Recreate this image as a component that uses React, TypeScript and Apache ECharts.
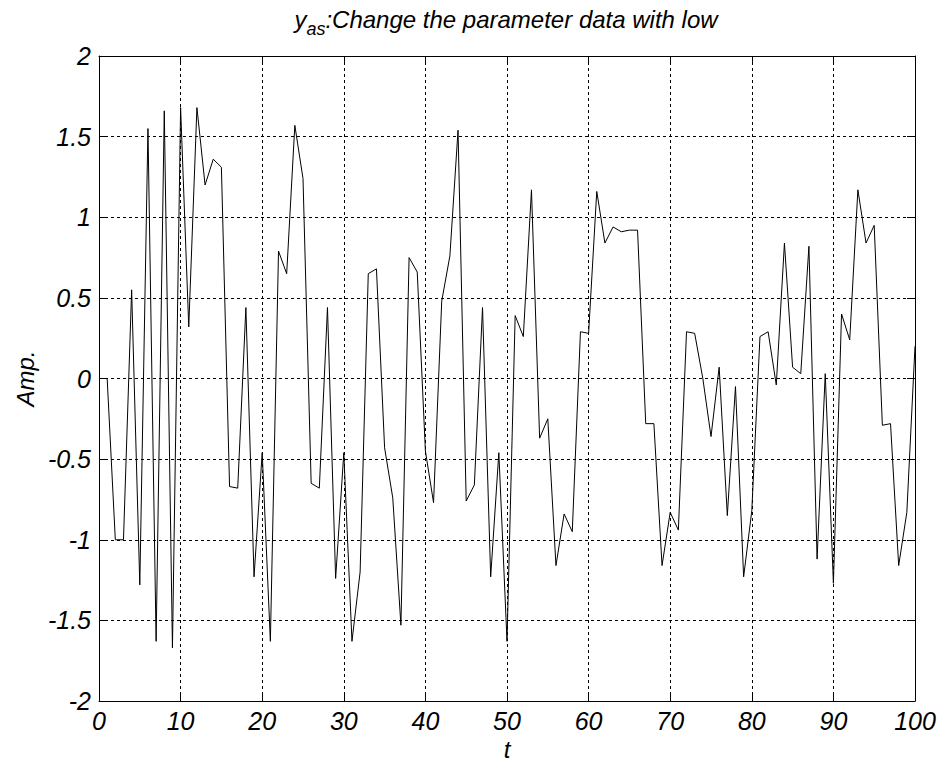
import React, { useEffect, useRef } from "react";
import * as echarts from "echarts";

const titleMain = ":Change the parameter data with low";
const titleVar = "y";
const titleSub = "as";
const xName = "t";
const yName = "Amp.";

const amp: number[] = [
  0, 0, -1, -1, 0.55, -1.28, 1.55, -1.63, 1.66, -1.67,
  1.68, 0.32, 1.68, 1.2, 1.36, 1.31, -0.67, -0.68, 0.44, -1.23,
  -0.46, -1.63, 0.79, 0.65, 1.57, 1.24, -0.65, -0.68, 0.44, -1.24,
  -0.46, -1.63, -1.2, 0.65, 0.68, -0.43, -0.74, -1.53, 0.75, 0.66,
  -0.45, -0.77, 0.48, 0.76, 1.54, -0.76, -0.66, 0.44, -1.23, -0.46,
  -1.63, 0.39, 0.26, 1.17, -0.37, -0.25, -1.16, -0.84, -0.95, 0.29,
  0.28, 1.16, 0.84, 0.94, 0.91, 0.92, 0.92, -0.28, -0.28, -1.16,
  -0.83, -0.94, 0.29, 0.28, 0.0, -0.36, 0.07, -0.85, -0.05, -1.23,
  -0.82, 0.26, 0.29, -0.04, 0.84, 0.07, 0.03, 0.82, -1.12, 0.03,
  -1.27, 0.4, 0.24, 1.17, 0.84, 0.95, -0.29, -0.28, -1.16, -0.83,
  0.2,
];

const FONT = "'Liberation Sans', Arial, sans-serif";

export default function App() {
  const ref = useRef<HTMLDivElement>(null);
  useEffect(() => {
    document.body.style.margin = "0";
    const chart = echarts.init(ref.current!, undefined, { renderer: "svg" });
    const data = amp.map((v, i) => [i, v]);
    const labelStyle = {
      color: "#000",
      fontFamily: FONT,
      fontStyle: "italic" as const,
      fontSize: 25,
    };
    const gridLine = { show: true, lineStyle: { color: "#000", type: [3, 3], width: 1 } };
    chart.setOption({
      animation: false,
      backgroundColor: "#fff",
      grid: { left: 99, right: 25, top: 56, bottom: 67, containLabel: false },
      graphic: [
        {
          type: "text",
          x: 506,
          y: 19,
          style: {
            text: `{v|${titleVar}}{s|${titleSub}}{m|${titleMain}}`,
            align: "center",
            verticalAlign: "middle",
            rich: {
              v: { fontSize: 24, fontFamily: FONT, fontStyle: "italic", fill: "#000", lineHeight: 24, verticalAlign: "top" },
              s: { fontSize: 18, fontFamily: FONT, fontStyle: "italic", fill: "#000", lineHeight: 18, padding: [13, 0, 0, 0], verticalAlign: "top" },
              m: { fontSize: 24, fontFamily: FONT, fontStyle: "italic", fill: "#000", lineHeight: 24, verticalAlign: "top" },
            },
          },
        },
      ],
      xAxis: [
        {
          type: "value",
          min: 0,
          max: 100,
          interval: 10,
          name: xName,
          nameLocation: "middle",
          nameGap: 33,
          nameTextStyle: { ...labelStyle, fontSize: 24 },
          axisLine: { show: true, onZero: false, lineStyle: { color: "#000", width: 1 } },
          axisTick: { show: true, inside: true, length: 8, lineStyle: { color: "#000" } },
          axisLabel: { ...labelStyle, margin: 7 },
          splitLine: gridLine,
        },
        {
          type: "value",
          position: "top",
          min: 0,
          max: 100,
          interval: 10,
          axisLine: { show: true, onZero: false, lineStyle: { color: "#000", width: 1 } },
          axisTick: { show: true, inside: true, length: 8, lineStyle: { color: "#000" } },
          axisLabel: { show: false },
          splitLine: { show: false },
        },
      ],
      yAxis: [
        {
          type: "value",
          min: -2,
          max: 2,
          interval: 0.5,
          name: yName,
          nameLocation: "middle",
          nameGap: 62,
          nameRotate: 90,
          nameTextStyle: { ...labelStyle, fontSize: 24 },
          axisLine: { show: true, onZero: false, lineStyle: { color: "#000", width: 1 } },
          axisTick: { show: true, inside: true, length: 8, lineStyle: { color: "#000" } },
          axisLabel: { ...labelStyle, margin: 8 },
          splitLine: gridLine,
        },
        {
          type: "value",
          position: "right",
          min: -2,
          max: 2,
          interval: 0.5,
          axisLine: { show: true, onZero: false, lineStyle: { color: "#000", width: 1 } },
          axisTick: { show: true, inside: true, length: 8, lineStyle: { color: "#000" } },
          axisLabel: { show: false },
          splitLine: { show: false },
        },
      ],
      series: [
        {
          type: "line",
          data,
          xAxisIndex: 0,
          yAxisIndex: 0,
          showSymbol: false,
          symbol: "none",
          lineStyle: { color: "#000", width: 1 },
        },
      ],
    });
    return () => chart.dispose();
  }, []);
  return <div ref={ref} style={{ width: 940, height: 768 }} />;
}
